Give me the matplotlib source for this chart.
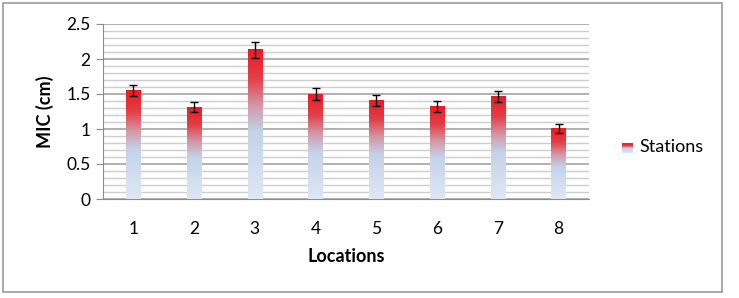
import matplotlib
matplotlib.use('Agg')
import matplotlib.pyplot as plt
import numpy as np
from matplotlib.colors import LinearSegmentedColormap
from matplotlib.patches import Rectangle
from matplotlib.legend_handler import HandlerBase

locations = ['1', '2', '3', '4', '5', '6', '7', '8']
mic = [1.55, 1.31, 2.13, 1.50, 1.41, 1.32, 1.46, 1.01]
mic_err = [0.08, 0.07, 0.11, 0.085, 0.075, 0.075, 0.08, 0.06]

plt.rcParams['font.family'] = ['Lato', 'DejaVu Sans']

grad = LinearSegmentedColormap.from_list('stations', [
    (0.0, '#dfe7f3'),
    (0.45, '#c4d3ea'),
    (0.62, '#d29aa8'),
    (0.8, '#e2404a'),
    (1.0, '#ec1a22'),
])


class GradHandler(HandlerBase):
    def create_artists(self, legend, orig_handle, xd, yd, w, h, fontsize, trans):
        arts = []
        n = 8
        for i in range(n):
            r = Rectangle((xd, yd + h * i / n), w, h / n,
                          facecolor=grad((i + 0.5) / n), edgecolor='none', transform=trans)
            arts.append(r)
        return arts


fig = plt.figure(figsize=(7.39, 2.98), dpi=100)
fig.patches.append(Rectangle((3 / 739, 6 / 298), 719 / 739, 289 / 298, transform=fig.transFigure,
                             fill=False, edgecolor='#9a9a9a', linewidth=1.2))
ax = fig.add_axes([103 / 739, 1 - 199 / 298, 486 / 739, 175 / 298])

x = np.arange(len(locations))
width = 0.24
bars = ax.bar(x, mic, width, color='none', edgecolor='none', zorder=3)
gimg = np.linspace(0, 1, 256).reshape(-1, 1)
for rect in bars:
    x0 = rect.get_x()
    h = rect.get_height()
    ax.imshow(gimg, cmap=grad, origin='lower', aspect='auto',
              extent=(x0, x0 + rect.get_width(), 0, h), zorder=3)
ax.errorbar(x, mic, yerr=mic_err, fmt='none', ecolor='black', elinewidth=1,
            capsize=3, capthick=1, zorder=4)

ax.set_xlim(-0.5, len(locations) - 0.5)
ax.set_ylim(0, 2.5)
ax.set_yticks(np.arange(0, 2.51, 0.5))
ax.set_yticklabels(['0', '0.5', '1', '1.5', '2', '2.5'], fontsize=12.5)
ax.set_yticks(np.arange(0, 2.51, 0.1), minor=True)
ax.set_xticks(x)
ax.set_xticklabels(locations, fontsize=12.5)
ax.tick_params(axis='x', length=0, pad=16)
ax.tick_params(axis='y', which='major', length=5, color='#8c8c8c', pad=4)
ax.tick_params(axis='y', which='minor', length=0)
ax.grid(axis='y', which='major', color='#a3a3a3', linewidth=1.2, zorder=0)
ax.grid(axis='y', which='minor', color='#cdcdcd', linewidth=1.0, zorder=0)
for s in ['top', 'right']:
    ax.spines[s].set_visible(False)
ax.spines['left'].set_color('#8c8c8c')
ax.spines['bottom'].set_color('#8c8c8c')
ax.spines['left'].set_zorder(5)

ax.set_ylabel('MIC (cm)', fontsize=13, fontweight='bold', labelpad=9)
ax.set_xlabel('Locations', fontsize=13, fontweight='bold', labelpad=8)

ax.legend([Rectangle((0, 0), 1, 1)], ['Stations'], handler_map={Rectangle: GradHandler()},
          loc='center left', bbox_to_anchor=(1.035, 0.3), frameon=False, fontsize=13,
          handlelength=0.6, handleheight=0.45, handletextpad=0.35)

plt.savefig('out.png', dpi=100)
